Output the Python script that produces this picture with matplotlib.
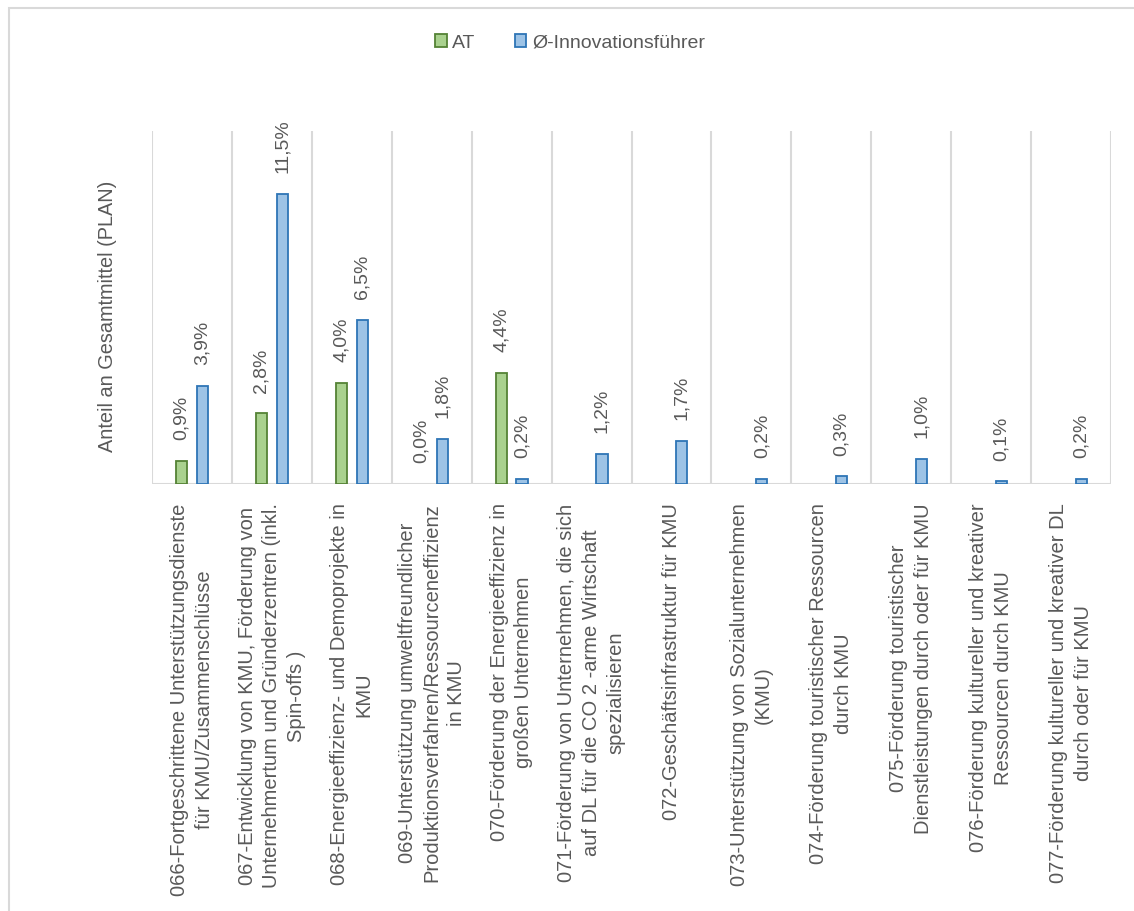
import numpy as np
import matplotlib
matplotlib.use('Agg')
import matplotlib.pyplot as plt
from matplotlib.patches import Rectangle

plt.rcParams['font.family'] = ['Liberation Sans', 'DejaVu Sans']

# Interventionsbereiche (Kategorien der x-Achse)
categories = [
    '066-Fortgeschrittene Unterstützungsdienste\nfür KMU/Zusammenschlüsse',
    '067-Entwicklung von KMU, Förderung von\nUnternehmertum und Gründerzentren (inkl.\nSpin-offs )',
    '068-Energieeffizienz- und Demoprojekte in\nKMU',
    '069-Unterstützung umweltfreundlicher\nProduktionsverfahren/Ressourceneffizienz\nin KMU',
    '070-Förderung der Energieeffizienz in\ngroßen Unternehmen',
    '071-Förderung von Unternehmen, die sich\nauf DL für die CO 2 -arme Wirtschaft\nspezialisieren',
    '072-Geschäftsinfrastruktur für KMU',
    '073-Unterstützung von Sozialunternehmen\n(KMU)',
    '074-Förderung touristischer Ressourcen\ndurch KMU',
    '075-Förderung touristischer\nDienstleistungen durch oder für KMU',
    '076-Förderung kultureller und kreativer\nRessourcen durch KMU',
    '077-Förderung kultureller und kreativer DL\ndurch oder für KMU',
]

# Anteil an Gesamtmittel in %
at_values = [0.9, 2.8, 4.0, 0.0, 4.4, np.nan, np.nan, np.nan, np.nan, np.nan, np.nan, np.nan]
leader_values = [3.9, 11.5, 6.5, 1.8, 0.2, 1.2, 1.7, 0.2, 0.3, 1.0, 0.1, 0.2]

series_names = ['AT', 'Ø-Innovationsführer']

TEXT = '#595959'
GRID = '#D9D9D9'
GREEN_FILL, GREEN_EDGE = '#A9D18E', '#548235'
BLUE_FILL, BLUE_EDGE = '#9DC3E6', '#2E75B6'

W, H = 1134, 911
fig = plt.figure(figsize=(W / 100, H / 100), dpi=100)
ax = fig.add_axes([152 / W, 1 - 484 / H, (1111 - 152) / W, (484 - 131) / H])

x = np.arange(len(categories))
off, bw = 0.13, 0.14
at_arr = np.array(at_values, dtype=float)
ld_arr = np.array(leader_values, dtype=float)

b1 = ax.bar(x - off, np.nan_to_num(at_arr), bw, color=GREEN_FILL, edgecolor=GREEN_EDGE,
            linewidth=1.3, label=series_names[0], zorder=3)
b2 = ax.bar(x + off, ld_arr, bw, color=BLUE_FILL, edgecolor=BLUE_EDGE,
            linewidth=1.3, label=series_names[1], zorder=3)

# missing or zero AT bars leave no visible mark
for rect, v in zip(b1, at_arr):
    if np.isnan(v) or v == 0:
        rect.set_visible(False)


def pct(v):
    return f'{v:.1f}%'.replace('.', ',')


for xi, v in zip(x - off, at_arr):
    if np.isnan(v):
        continue
    ax.annotate(pct(v), (xi, v), xytext=(0, 15), textcoords='offset points',
                rotation=90, ha='center', va='bottom', fontsize=14, color=TEXT)
for xi, v in zip(x + off, ld_arr):
    ax.annotate(pct(v), (xi, v), xytext=(0, 15), textcoords='offset points',
                rotation=90, ha='center', va='bottom', fontsize=14, color=TEXT)

ax.set_xlim(-0.5, len(categories) - 0.5)
ax.set_ylim(0, 14)

# category separators
for b in np.arange(-0.5, len(categories), 1.0):
    ax.axvline(b, color=GRID, lw=1.5, zorder=1)
ax.axhline(0, color=GRID, lw=1.5, zorder=2)

for s in ax.spines.values():
    s.set_visible(False)
ax.set_yticks([])
ax.set_xticks(x)
ax.set_xticklabels(categories, rotation=90, ha='center', va='top',
                   multialignment='center', fontsize=14.5, color=TEXT,
                   linespacing=1.38)
ax.tick_params(axis='x', length=0, pad=14)

fig.text(108 / W, 1 - 316 / H, 'Anteil an Gesamtmittel (PLAN)', rotation=90,
         ha='center', va='center', fontsize=14.3, color=TEXT)

leg = fig.legend(handles=[b1, b2], labels=series_names, loc='center',
                 bbox_to_anchor=(570 / W, 1 - 43 / H), ncol=2, frameon=False,
                 fontsize=14, labelcolor=TEXT, handlelength=0.6, handleheight=0.6,
                 handletextpad=0.3, columnspacing=2.0)

# chart area border
fig.patches.append(Rectangle((9 / W, -0.01), 1.2, 1 - 8 / H + 0.01,
                             transform=fig.transFigure, fill=False,
                             edgecolor=GRID, lw=1.5))

fig.savefig('out.png', dpi=100)
